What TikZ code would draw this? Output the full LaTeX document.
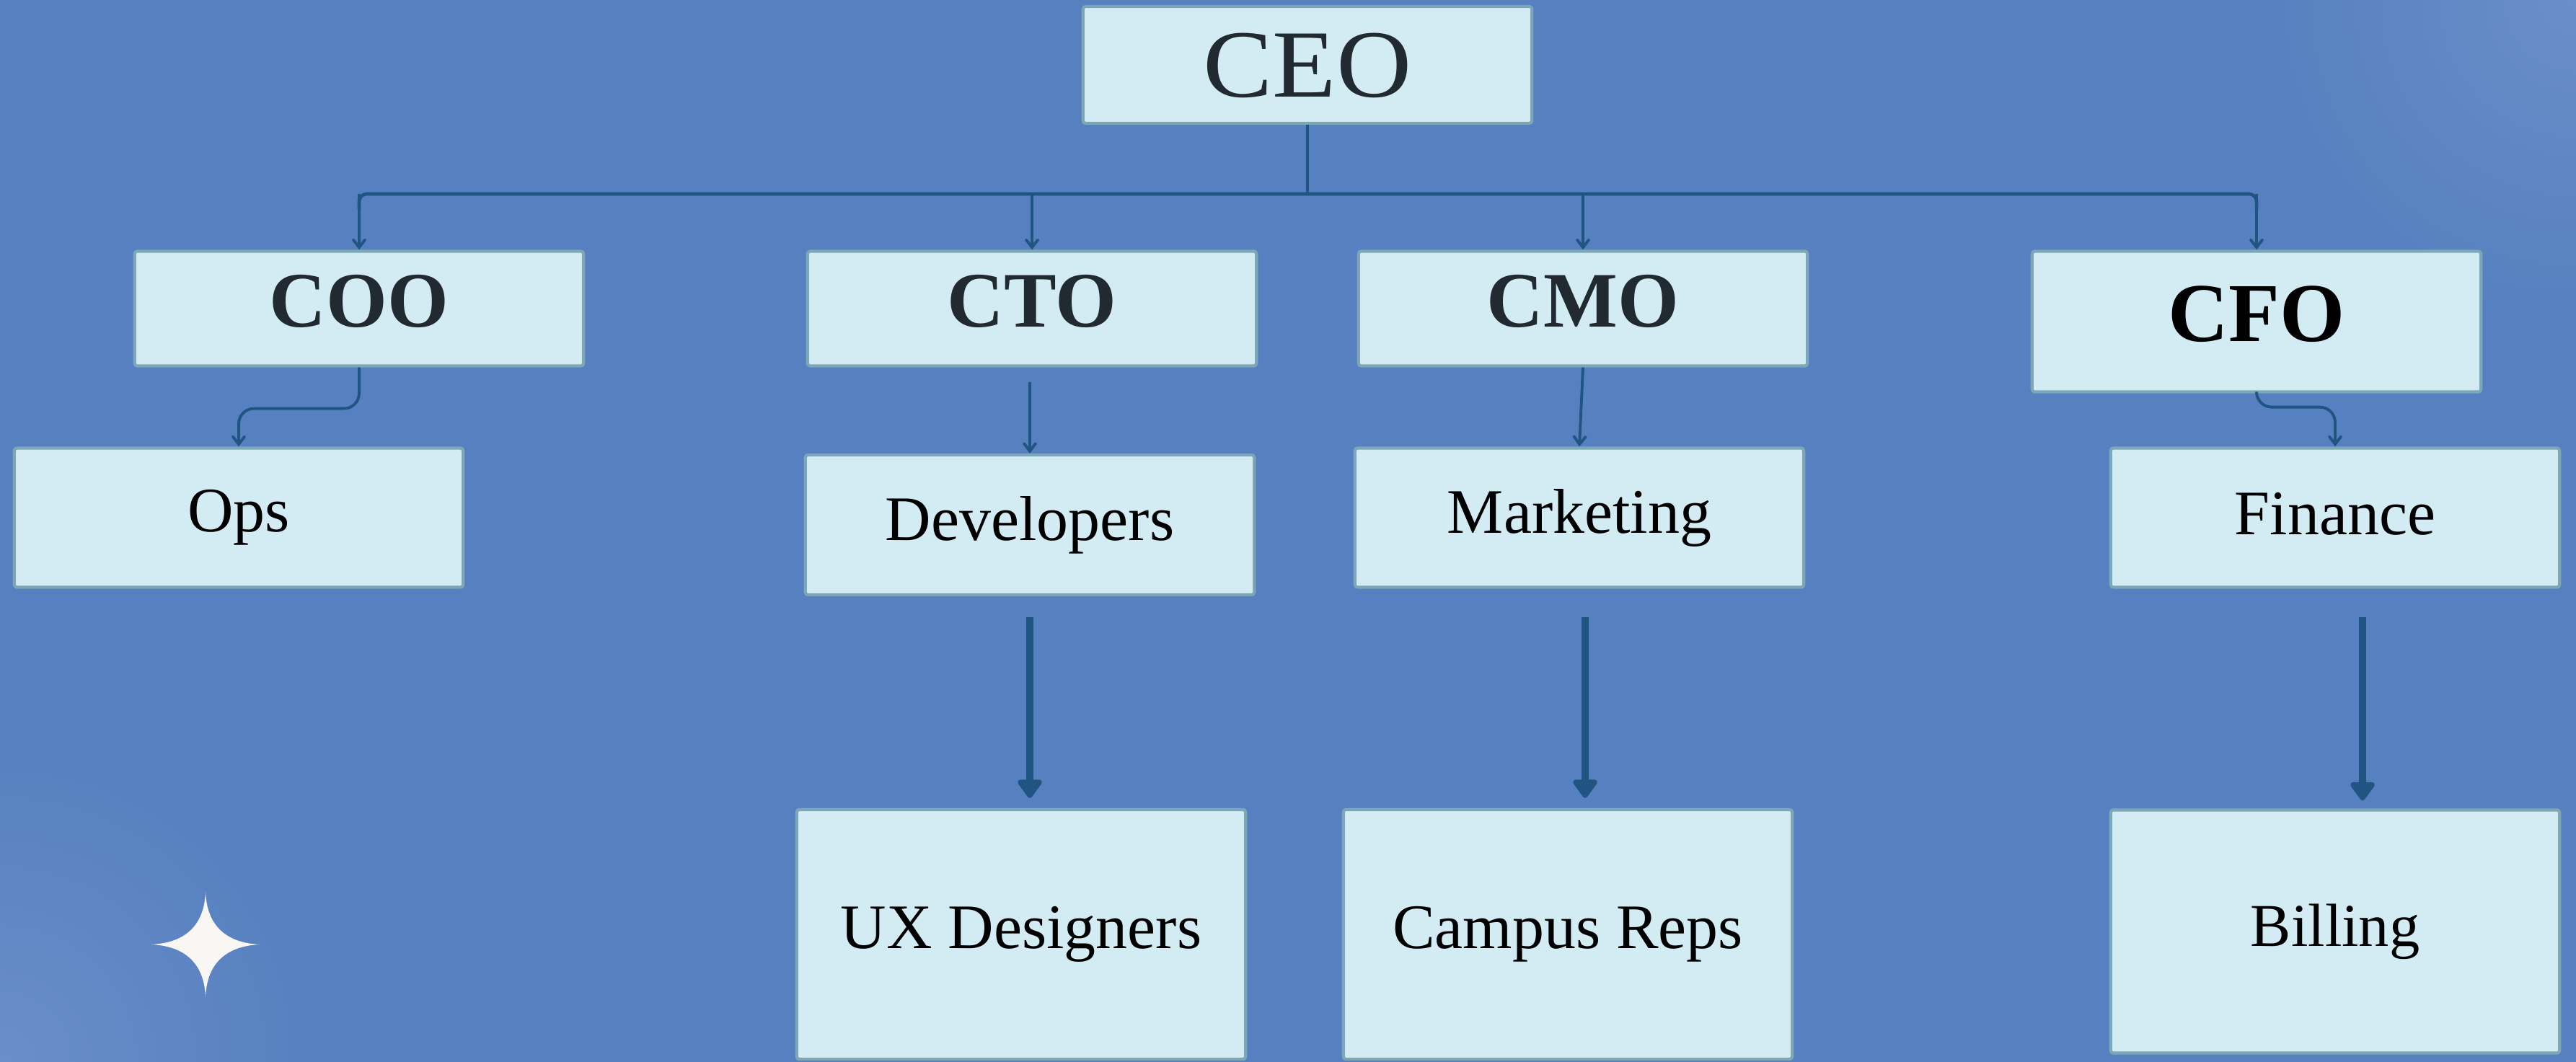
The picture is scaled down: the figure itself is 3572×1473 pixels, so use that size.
\documentclass[tikz,border=0pt]{standalone}
\usepackage{fontspec}
\setmainfont{Liberation Serif}
\newfontfamily\fuentejefe[FakeStretch=1.08]{Liberation Serif}
\usetikzlibrary{arrows.meta}

\definecolor{fondo}{RGB}{86,128,192}
\definecolor{fondoclaro}{RGB}{106,142,200}
\definecolor{cajafondo}{RGB}{211,236,243}
\definecolor{cajaborde}{RGB}{125,166,182}
\definecolor{linea}{RGB}{31,85,128}
\definecolor{tinta}{RGB}{34,42,49}
\definecolor{estrella}{RGB}{248,247,243}

\tikzset{
  caja/.style={draw=cajaborde, fill=cajafondo, line width=1.2pt, minimum width=6.22cm, inner sep=0pt, rounded corners=1pt},
  jefe/.style={caja, minimum height=1.59cm, text depth=0.22cm, font=\fontsize{31}{36}\selectfont\bfseries, text=tinta},
  area/.style={caja, minimum height=1.93cm, font=\fontsize{25}{30}\selectfont},
  equipo/.style={caja, minimum height=3.46cm, font=\fontsize{25}{30}\selectfont},
  conector/.style={linea, line width=1.1pt, -{Straight Barb[length=3pt,width=4.6pt,line cap=round]}},
  troncal/.style={linea, line width=1.3pt},
  flecha/.style={linea, line width=2.8pt, -{Triangle[length=8pt,width=11pt,round]}}
}

\begin{document}
\begin{tikzpicture}[x=0.01cm, y=-0.01cm]
        \useasboundingbox (0,0) rectangle (3572,1473);
        % Fondo
        \fill[fondo] (0,0) rectangle (3572,1473);
        \begin{scope}
            \clip (0,0) rectangle (3572,1473);
            \shade[inner color=fondoclaro, outer color=fondo] (3572,0) circle (4.5cm);
            \shade[inner color=fondoclaro, outer color=fondo] (0,1473) circle (4.5cm);
        \end{scope}

        % Estrella
        \fill[estrella] (285,1237) .. controls (287,1288) and (318,1308) .. (360,1310)
            .. controls (318,1312) and (287,1332) .. (285,1383)
            .. controls (283,1332) and (252,1312) .. (210,1310)
            .. controls (252,1308) and (283,1288) .. (285,1237) -- cycle;

        % Cajas
        \node[jefe, minimum height=1.62cm, text depth=0pt, font=\fuentejefe\fontsize{38}{42}\selectfont] (ceo) at (1813,90) {CEO};
        \node[jefe] (coo) at (498,428) {COO};
        \node[jefe] (cto) at (1431,428) {CTO};
        \node[jefe] (cmo) at (2195,428) {CMO};
        \node[jefe, minimum height=1.95cm, text=black, font=\fontsize{33}{38}\selectfont\bfseries] (cfo) at (3129,446) {CFO};

        \node[area] (ops) at (331,718) {Ops};
        \node[area, minimum height=1.94cm] (dev) at (1428,728) {Developers};
        \node[area] (mkt) at (2190,718) {Marketing};
        \node[area, text depth=0.12cm] (fin) at (3238,718) {Finance};

        \node[equipo] (ux) at (1416,1296) {UX Designers};
        \node[equipo] (camp) at (2174,1296) {Campus Reps};
        \node[equipo, minimum height=3.37cm, font=\fontsize{24}{29}\selectfont] (bill) at (3238,1292) {Billing};

        % Conectores
        \coordinate (bus) at (1813,269);
        \coordinate (bajo) at (1813,290);
        \draw[troncal] (ceo.south) -- (bus);
        \draw[troncal, rounded corners=3pt] (coo.north |- bajo) -- (coo.north |- bus) -- (cfo.north |- bus) -- (cfo.north |- bajo);
        \foreach \n in {coo,cto,cmo,cfo}
            \draw[conector] (\n.north |- bus) -- (\n.north);

        \draw[conector, rounded corners=6pt] (coo.south) -- ++(0,57) -| (ops.north);
        \draw[conector] ([yshift=-0.2cm]dev.north |- cto.south) -- (dev.north);
        \draw[conector] (cmo.south) -- (mkt.north);
        \draw[conector, rounded corners=6pt] (cfo.south) -- ++(0,19) -| (fin.north);

        % Flechas gruesas
        \draw[flecha, shorten <=0.29cm, shorten >=0.14cm] (dev.south) -- (dev.south |- ux.north);
        \draw[flecha, shorten <=0.39cm, shorten >=0.14cm] ([xshift=0.08cm]mkt.south) -- ([xshift=0.08cm]mkt.south |- camp.north);
        \draw[flecha, shorten <=0.39cm, shorten >=0.11cm] ([xshift=0.38cm]fin.south) -- ([xshift=0.38cm]fin.south |- bill.north);
\end{tikzpicture}
\end{document}
